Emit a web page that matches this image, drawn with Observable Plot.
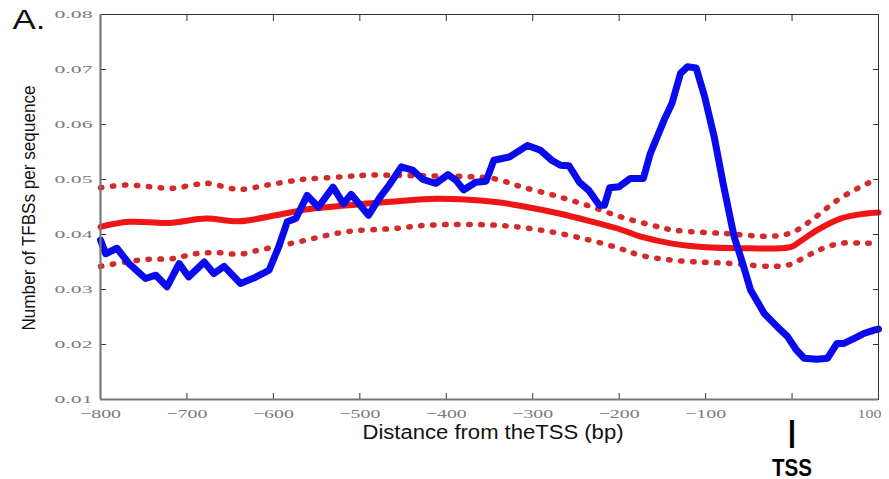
<!DOCTYPE html>
<html><head><meta charset="utf-8">
<script src="https://cdn.jsdelivr.net/npm/d3@7"></script>
<script src="https://cdn.jsdelivr.net/npm/@observablehq/plot@0.6"></script>
<style>html,body{margin:0;padding:0;background:#fff;} svg{display:block}</style>
</head><body><div id="chart"></div>
<script>
// ---- data ----
const xTicks = [-800, -700, -600, -500, -400, -300, -200, -100, 0, 100];
const xLabelTicks = [-800, -700, -600, -500, -400, -300, -200, -100, 100];
const yTicks = [0.01, 0.02, 0.03, 0.04, 0.05, 0.06, 0.07, 0.08];
const tssPos = [0];

const observedPos = [-800,-794,-781,-767,-748,-736,-723,-709,-698,-680,-669,-657,-638,-621,-605,-594,-584,-574,-561,-548,-531,-519,-510,-490,-477,-466,-452,-439,-427,-412,-398,-389,-380,-366,-354,-345,-327,-306,-291,-278,-268,-258,-246,-235,-223,-217,-211,-200,-187,-172,-164,-148,-139,-129,-121,-111,-101,-90,-79,-67,-57,-48,-32,-17,-5,5,14,29,41,52,60,72,83,95,100];
const observedVal = [0.0390,0.0365,0.0375,0.0347,0.0320,0.0326,0.0305,0.0347,0.0323,0.0350,0.0329,0.0342,0.0311,0.0322,0.0335,0.0377,0.0423,0.0429,0.0471,0.0450,0.0486,0.0456,0.0473,0.0435,0.0467,0.0490,0.0523,0.0517,0.0500,0.0493,0.0509,0.0499,0.0481,0.0495,0.0497,0.0535,0.0541,0.0562,0.0553,0.0535,0.0526,0.0525,0.0495,0.0480,0.0453,0.0453,0.0485,0.0487,0.0502,0.0502,0.0547,0.0608,0.0638,0.0693,0.0705,0.0703,0.0650,0.0577,0.0487,0.0396,0.0347,0.0299,0.0256,0.0232,0.0214,0.0190,0.0175,0.0173,0.0175,0.0202,0.0202,0.0211,0.0220,0.0226,0.0228];

const meanPos = [-800,-767,-721,-678,-640,-597,-560,-500,-459,-412,-343,-310,-272,-233,-200,-175,-137,-100,-50,-13,0,10,29,56,80,100];
const meanVal = [0.0414,0.0423,0.0421,0.0429,0.0424,0.0435,0.0446,0.0455,0.0460,0.0465,0.0459,0.0451,0.0439,0.0424,0.0410,0.0396,0.0383,0.0377,0.0375,0.0375,0.0378,0.0388,0.0408,0.0429,0.0437,0.0440];

const upperPos = [-800,-771,-744,-717,-690,-675,-650,-636,-607,-580,-567,-520,-488,-440,-372,-343,-314,-275,-237,-198,-160,-137,-79,-21,2,25,52,76,89,100];
const upperVal = [0.0485,0.0490,0.0487,0.0484,0.0491,0.0493,0.0484,0.0482,0.0490,0.0497,0.0500,0.0505,0.0508,0.0507,0.0505,0.0501,0.0487,0.0471,0.0453,0.0432,0.0416,0.0408,0.0402,0.0397,0.0405,0.0429,0.0462,0.0484,0.0494,0.0498];

const lowerPos = [-800,-771,-744,-717,-690,-663,-640,-621,-594,-567,-516,-459,-420,-343,-291,-240,-200,-175,-137,-79,-6,17,33,56,87,100];
const lowerVal = [0.0342,0.0350,0.0355,0.0356,0.0365,0.0367,0.0364,0.0370,0.0379,0.0388,0.0405,0.0411,0.0417,0.0417,0.0408,0.0392,0.0375,0.0362,0.0353,0.0348,0.0344,0.0361,0.0373,0.0384,0.0384,0.0384];

const xTitle = "Distance from theTSS (bp)";
const yTitle = "Number of TFBSs per sequence";
const panelTag = "A.";
const tssText = "TSS";

const toRows = (p, v) => p.map((d, i) => ({pos: d, val: v[i]}));
const observed = toRows(observedPos, observedVal);
const mean = toRows(meanPos, meanVal);
const upper = toRows(upperPos, upperVal);
const lower = toRows(lowerPos, lowerVal);

const fmtX = d => (d < 0 ? "\u2212" + Math.abs(d) : String(d));
const fmtY = d => d.toFixed(2);
const empty = () => "";

const chart = Plot.plot({
  width: 889, height: 479,
  marginLeft: 100, marginRight: 11, marginTop: 14, marginBottom: 80,
  x: {domain: [-800, 100]},
  y: {domain: [0.01, 0.08]},
  style: {background: "white", overflow: "visible"},
  marks: [
    // tick labels
    Plot.axisY(yTicks, {anchor: "left", tickSize: 0, tickPadding: 8, tickFormat: fmtY, fontSize: 10.5, fontFamily: "Liberation Serif", fill: "#7a7a7a", label: null}),
    Plot.axisX(xLabelTicks, {anchor: "bottom", tickSize: 0, tickPadding: 9, tickFormat: fmtX, fontSize: 13, fontFamily: "Liberation Serif", fill: "#7a7a7a", label: null}),
    // inward ticks on all four sides
    Plot.axisY(yTicks, {anchor: "left", tickSize: 6, dx: 6, tickFormat: empty, stroke: "#333", label: null}),
    Plot.axisY(yTicks, {anchor: "right", tickSize: 6, dx: -6, tickFormat: empty, stroke: "#333", label: null}),
    Plot.axisX(xTicks, {anchor: "bottom", tickSize: 6, dy: -6, tickFormat: empty, stroke: "#333", label: null}),
    Plot.axisX(xTicks, {anchor: "top", tickSize: 6, dy: 6, tickFormat: empty, stroke: "#333", label: null}),
    // series
    Plot.line(upper, {x: "pos", y: "val", stroke: "#d42a2a", strokeWidth: 5.5, strokeDasharray: "1.5 10.5", strokeLinecap: "round", curve: "catmull-rom"}),
    Plot.line(lower, {x: "pos", y: "val", stroke: "#d42a2a", strokeWidth: 5.5, strokeDasharray: "1.5 10.5", strokeLinecap: "round", curve: "catmull-rom"}),
    Plot.line(mean, {x: "pos", y: "val", stroke: "#f01414", strokeWidth: 6, curve: "catmull-rom"}),
    Plot.line(observed, {x: "pos", y: "val", stroke: "#0a0aee", strokeWidth: 7, strokeLinejoin: "round", strokeLinecap: "round"}),
    // frame
    Plot.frame({stroke: "#333", strokeWidth: 1}),
    Plot.ruleX([-800], {stroke: "#777", strokeWidth: 2.2}),
    Plot.ruleY([0.01], {stroke: "#777", strokeWidth: 2.2}),
    // titles
    Plot.text([xTitle], {frameAnchor: "bottom", dx: 3.5, dy: 39, lineAnchor: "bottom", textAnchor: "middle", fontSize: 19.5, fontFamily: "Liberation Sans", fill: "#111", text: d => d}),
    Plot.text([yTitle], {frameAnchor: "left", dx: -72, dy: 1, rotate: -90, lineAnchor: "middle", textAnchor: "middle", fontSize: 19, fontFamily: "Liberation Sans", fill: "#111", text: d => d}),
    Plot.text([panelTag], {frameAnchor: "top-left", dx: -88, dy: 14, lineAnchor: "bottom", textAnchor: "start", fontSize: 28, fontFamily: "Liberation Sans", fill: "#111", text: d => d}),
    Plot.text(tssPos, {x: d => d, frameAnchor: "bottom", dy: 42, lineAnchor: "bottom", textAnchor: "middle", text: () => "|", fontSize: 30, fontWeight: "bold", fontFamily: "Liberation Sans", fill: "#000"}),
    Plot.text(tssPos, {x: d => d, frameAnchor: "bottom", dy: 76, lineAnchor: "bottom", textAnchor: "middle", text: () => tssText, fontSize: 24, fontWeight: "bold", fontFamily: "Liberation Sans", fill: "#000"})
  ]
});
document.getElementById("chart").appendChild(chart);

// stretch texts to the proportions seen in the reference
const svg = d3.select(chart);
svg.selectAll('g[aria-label="y-axis tick label"] text').each(function () {
  const t = this.textContent;
  if (t) d3.select(this).attr("textLength", 38).attr("lengthAdjust", "spacingAndGlyphs");
});
svg.selectAll('g[aria-label="x-axis tick label"] text').each(function () {
  const t = this.textContent;
  if (!t) return;
  const s = d3.select(this).attr("textLength", t.startsWith("\u2212") ? 41 : 24).attr("lengthAdjust", "spacingAndGlyphs");
  if (t === "100") s.attr("dx", -9);
});
svg.selectAll('g[aria-label="text"] text').each(function () {
  const t = this.textContent;
  const L = {[xTitle]: 261, [yTitle]: 245, [panelTag]: 33, [tssText]: 40}[t];
  if (L) d3.select(this).attr("textLength", L).attr("lengthAdjust", "spacingAndGlyphs");
});
</script></body></html>
